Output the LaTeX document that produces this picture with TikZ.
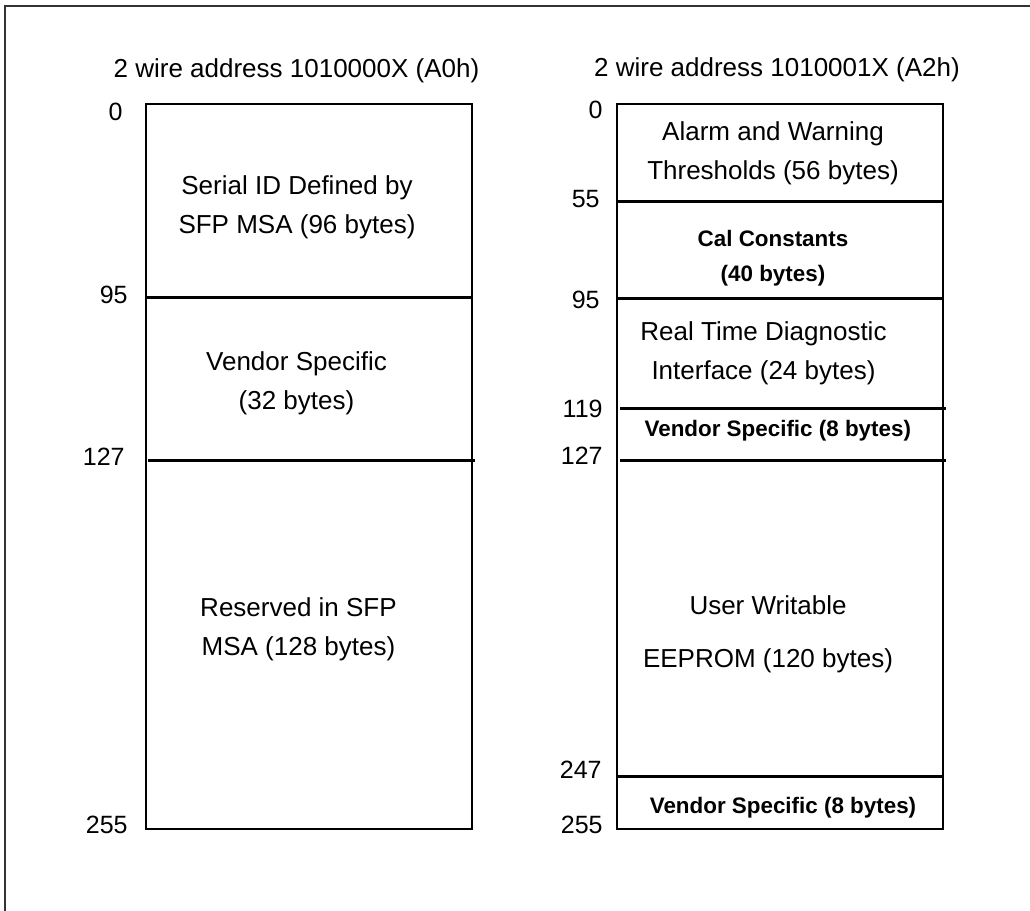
\documentclass[tikz,border=0pt]{standalone}
\usepackage{fontspec}
\setmainfont{Liberation Sans}
\usepackage{tikz}

\begin{document}
\begin{tikzpicture}[x=0.5pt, y=-0.5pt,
  memtitle/.style={anchor=base, inner sep=0pt, font=\fontsize{13pt}{16pt}\selectfont},
  offset/.style={anchor=base east, inner sep=0pt, font=\fontsize{12.5pt}{15pt}\selectfont},
  area/.style={align=center, inner sep=0pt, font=\fontsize{13pt}{19.5pt}\selectfont},
  areabold/.style={align=center, inner sep=0pt, font=\bfseries\fontsize{11.2pt}{17.5pt}\selectfont},
  box/.style={draw, line width=1.4pt},
  divider/.style={line width=1.5pt}]
\useasboundingbox (0,0) rectangle (1030,911);
\draw[line width=0.8pt, black!80] (5,911) -- (5,6) -- (1030,6);

% lower page A0h
\node[memtitle] (titleA) at (296.5,77) {2 wire address 1010000X (A0h)};
\draw[box] (146,104) rectangle (472,829);
\draw[divider] (146,297) -- (472,297);
\draw[divider] (148,460) -- (475,460);
\node[offset] (addrA0) at (123,120) {0};
\node[offset] (addrA95) at (128,303) {95};
\node[offset] (addrA127) at (125,465) {127};
\node[offset] (addrA255) at (128,833) {255};
\node[area] (textA0) at (297,207.5) {Serial ID Defined by\\SFP MSA (96 bytes)};
\node[area] (textA1) at (296.5,383) {Vendor Specific\\(32 bytes)};
\node[area] (textA2) at (298.5,629) {Reserved in SFP\\MSA (128 bytes)};

% upper page A2h
\node[memtitle] (titleB) at (777,76) {2 wire address 1010001X (A2h)};
\draw[box] (617,104) rectangle (943,829);
\draw[divider] (617,201) -- (943,201);
\draw[divider] (617,298) -- (943,298);
\draw[divider] (620,408) -- (946,408);
\draw[divider] (620,460) -- (946,460);
\draw[divider] (617,776) -- (943,776);
\node[offset] (addrB0) at (603,118) {0};
\node[offset] (addrB55) at (600,207) {55};
\node[offset] (addrB95) at (600,308) {95};
\node[offset] (addrB119) at (603,417) {119};
\node[offset] (addrB127) at (603,464) {127};
\node[offset] (addrB247) at (602,778) {247};
\node[offset] (addrB255) at (603,833) {255};
\node[area] (textB0) at (773,153.7) {Alarm and Warning\\Thresholds (56 bytes)};
\node[areabold] (textB1) at (773,258.4) {Cal Constants\\(40 bytes)};
\node[area] (textB2) at (763.5,353.2) {Real Time Diagnostic\\Interface (24 bytes)};
\node[areabold, anchor=base] (textB3) at (777.8,436.7) {Vendor Specific (8 bytes)};
\node[area, font=\fontsize{13pt}{26.3pt}\selectfont] (textB4) at (768,634.5) {User Writable\\EEPROM (120 bytes)};
\node[areabold, anchor=base] (textB5) at (783,813.3) {Vendor Specific (8 bytes)};
\end{tikzpicture}
\end{document}
